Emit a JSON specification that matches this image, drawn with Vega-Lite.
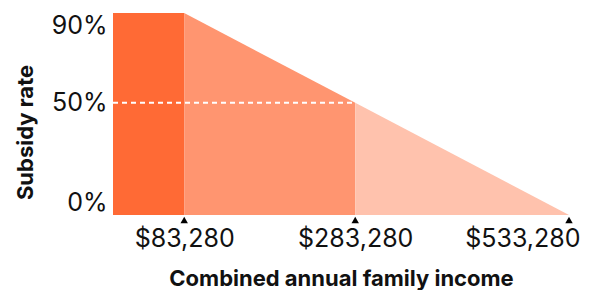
{
  "$schema": "https://vega.github.io/schema/vega-lite/v6.json",
  "width": 456,
  "height": 202,
  "autosize": {"type": "none"},
  "padding": {"left": 113, "top": 13, "right": 21, "bottom": 75},
  "background": "white",
  "config": {
    "view": {"stroke": null},
    "font": "Inter",
    "axis": {"labelColor": "#111111", "titleColor": "#111111", "labelFont": "Inter", "titleFont": "Inter", "grid": false, "domain": false, "ticks": false}
  },
  "datasets": {
    "regions": [
      {"income": 0, "rate": 90, "band": "a"},
      {"income": 83280, "rate": 90, "band": "a"},
      {"income": 83280, "rate": 90, "band": "b"},
      {"income": 283280, "rate": 50, "band": "b"},
      {"income": 283280, "rate": 50, "band": "c"},
      {"income": 533280, "rate": 0, "band": "c"}
    ],
    "line50": [{"income": 0, "income2": 283280, "rate": 50}],
    "marks": [{"income": 83280, "rate": 0}, {"income": 283280, "rate": 0}, {"income": 533280, "rate": 0}]
  },
  "layer": [
    {
      "data": {"name": "regions"},
      "mark": {"type": "area", "interpolate": "linear"},
      "encoding": {
        "x": {
          "field": "income", "type": "quantitative",
          "scale": {"domain": [0, 533280], "nice": false, "zero": false},
          "axis": {
            "values": [83280, 283280, 533280], "format": "$,d",
            "labelFontSize": 25, "labelPadding": 11,
            "labelFlush": true, "labelFlushOffset": 11,
            "title": "Combined annual family income", "titleFontSize": 22, "titleFontWeight": "bold", "titlePadding": 17
          }
        },
        "y": {
          "field": "rate", "type": "quantitative", "stack": null,
          "scale": {"domain": [0, 90], "nice": false},
          "axis": {
            "values": [0, 50, 90], "labelExpr": "datum.value + '%'",
            "labelFontSize": 25, "labelPadding": 6, "labelFlush": true,
            "title": "Subsidy rate", "titleFontSize": 22, "titleFontWeight": "bold",
            "titleBaseline": "alphabetic", "titleX": -81, "titleY": 119
          }
        },
        "color": {
          "field": "band", "type": "nominal",
          "scale": {"domain": ["a", "b", "c"], "range": ["#ff6a35", "#ff9570", "#ffc2ad"]},
          "legend": null
        }
      }
    },
    {
      "data": {"name": "line50"},
      "mark": {"type": "rule", "color": "white", "strokeWidth": 2, "strokeDash": [5, 4]},
      "encoding": {
        "x": {"field": "income", "type": "quantitative"},
        "x2": {"field": "income2"},
        "y": {"field": "rate", "type": "quantitative"}
      }
    },
    {
      "data": {"name": "marks"},
      "mark": {"type": "point", "shape": "triangle-up", "filled": true, "color": "#000000", "opacity": 1, "size": 55, "yOffset": 5},
      "encoding": {
        "x": {"field": "income", "type": "quantitative"},
        "y": {"field": "rate", "type": "quantitative"}
      }
    }
  ]
}
